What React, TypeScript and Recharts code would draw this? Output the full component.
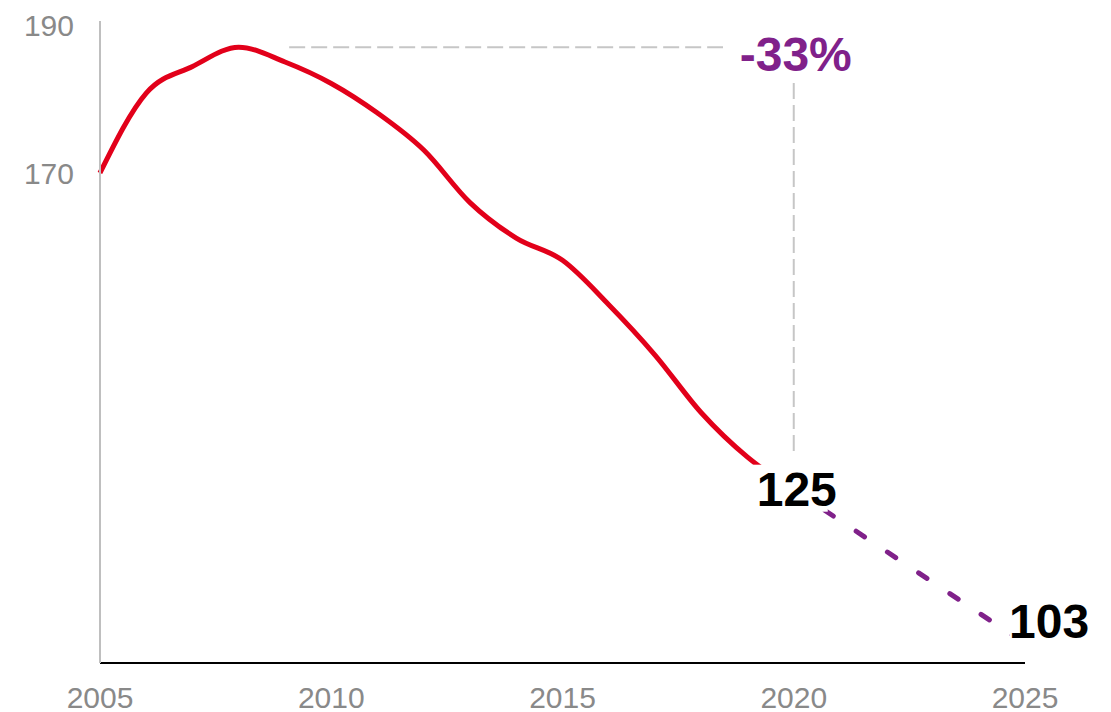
import React from 'react';
import { LineChart, Line, XAxis, YAxis, ReferenceLine, ReferenceDot, LabelList } from 'recharts';

const actualYears = [2005, 2006, 2007, 2008, 2009, 2010, 2011, 2012, 2013, 2014, 2015, 2016, 2017, 2018, 2019, 2020];
const actualValues = [170.0, 180.8, 184.4, 187.0, 185.0, 182.1, 178.1, 173.1, 166.0, 161.2, 158.2, 152.2, 145.4, 137.6, 131.6, 127.2];
const projectionYears = [2020, 2025];
const projectionValues = [127.2, 106.4];
const endLabels = ['125', '103'];
const xTicks = [2005, 2010, 2015, 2020, 2025];
const yTicks = [170, 190];
const peakValue = 187.0;
const peakLineYears = [2009.09, 2018.47];
const dropLineValues = [182.15, 131.9];
const changeLabel = '-33%';

const actualData = actualYears.map((year, i) => ({ year, value: actualValues[i] }));
const projectionData = projectionYears.map((year, i) => ({ year, value: projectionValues[i], label: endLabels[i] }));

const FONT = '"Liberation Sans", Arial, Helvetica, sans-serif';
const RED = '#e2001a';
const PURPLE = '#80218a';
const GREY = '#898989';
const DASH_GREY = '#c6c6c6';

const EndLabel = (props: any) => {
  const { x, y, index, value } = props;
  if (x == null || y == null) return null;
  if (index === 0) {
    return (
      <g>
        <rect x={x - 41} y={y - 25} width={75} height={47} fill="#ffffff" />
        <text x={x + 3} y={y - 1 + 17} textAnchor="middle" fontFamily={FONT} fontWeight="bold" fontSize={48} fill="#000">
          {value}
        </text>
      </g>
    );
  }
  return (
    <g>
      <rect x={x - 15} y={y - 46} width={80} height={52} fill="#ffffff" />
      <text x={x - 16} y={y - 23 + 17} textAnchor="start" fontFamily={FONT} fontWeight="bold" fontSize={48} fill="#000">
        {value}
      </text>
    </g>
  );
};

const ChangeLabel = (props: any) => {
  const vb = props.viewBox || {};
  const cx = (vb.x || 0) + (vb.width || 0) / 2;
  const cy = (vb.y || 0) + (vb.height || 0) / 2;
  return (
    <text x={cx + 2} y={cy + 7 + 17} textAnchor="middle" fontFamily={FONT} fontWeight="bold" fontSize={48} fill={PURPLE}>
      {changeLabel}
    </text>
  );
};

export default function App() {
  return (
    <div style={{ position: 'absolute', left: 0, top: 0, width: 1111, height: 712, background: '#fff' }}>
      <LineChart width={1111} height={712} margin={{ top: 21, right: 86, left: 20, bottom: 9 }}>
        <XAxis
          dataKey="year"
          type="number"
          domain={[2005, 2025]}
          ticks={xTicks}
          interval={0}
          height={40}
          tickSize={0}
          tickMargin={24}
          axisLine={{ stroke: '#000', strokeWidth: 2 }}
          tickLine={false}
          tick={{ fill: GREY, fontSize: 30, fontFamily: FONT }}
          allowDuplicatedCategory={false}
        />
        <YAxis
          type="number"
          domain={[103.78, 190.54]}
          ticks={yTicks}
          interval={0}
          width={80}
          tickSize={0}
          tickMargin={26}
          axisLine={{ stroke: '#bfbfbf', strokeWidth: 2 }}
          tickLine={false}
          tick={{ fill: GREY, fontSize: 30, fontFamily: FONT }}
        />
        <ReferenceLine
          segment={[{ x: peakLineYears[0], y: peakValue }, { x: peakLineYears[1], y: peakValue }]}
          stroke={DASH_GREY}
          strokeWidth={2}
          strokeDasharray="16 6"
        />
        <ReferenceLine
          segment={[{ x: 2020, y: dropLineValues[0] }, { x: 2020, y: dropLineValues[1] }]}
          stroke={DASH_GREY}
          strokeWidth={2}
          strokeDasharray="16 6"
        />
        <Line
          data={actualData}
          dataKey="value"
          type="monotone"
          stroke={RED}
          strokeWidth={5}
          dot={false}
          activeDot={false}
          isAnimationActive={false}
        />
        <Line
          data={projectionData}
          dataKey="value"
          type="linear"
          stroke={PURPLE}
          strokeWidth={5}
          strokeLinecap="round"
          strokeDasharray="10 27.5"
          dot={false}
          activeDot={false}
          isAnimationActive={false}
        >
          <LabelList dataKey="label" content={EndLabel} />
        </Line>
        <ReferenceDot x={2020} y={peakValue} r={0} fill="none" stroke="none" label={ChangeLabel} />
      </LineChart>
    </div>
  );
}
